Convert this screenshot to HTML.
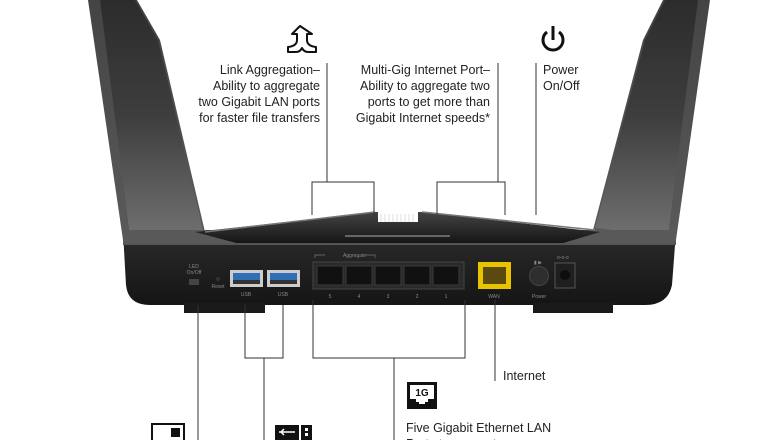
<!DOCTYPE html>
<html><head><meta charset="utf-8"><style>
html,body{margin:0;padding:0;background:#fff;width:780px;height:440px;overflow:hidden}
svg{display:block}
.t{font-family:"Liberation Sans",sans-serif;font-size:12.5px;fill:#222}
.s{font-family:"Liberation Sans",sans-serif;font-size:5px;fill:#888}
</style></head><body>
<svg width="780" height="440" viewBox="0 0 780 440" xmlns="http://www.w3.org/2000/svg">
<defs>
<linearGradient id="antV" x1="0" y1="0" x2="0" y2="1">
<stop offset="0" stop-color="#2c2c2c"/><stop offset="0.5" stop-color="#3e3e3e"/><stop offset="1" stop-color="#707070"/></linearGradient>
<linearGradient id="rim" x1="0" y1="0" x2="0" y2="1">
<stop offset="0" stop-color="#444"/><stop offset="1" stop-color="#5a5a5a"/></linearGradient>
<linearGradient id="body" x1="0" y1="0" x2="0" y2="1">
<stop offset="0" stop-color="#2b2b2b"/><stop offset="1" stop-color="#151515"/></linearGradient>
<linearGradient id="wing" x1="0" y1="0" x2="0" y2="1">
<stop offset="0" stop-color="#444"/><stop offset="1" stop-color="#141414"/></linearGradient>
</defs>
<!-- antennas -->
<path d="M88,0 L137,0 L160,40 L205,232 L123,240 Z" fill="url(#rim)"/>
<path d="M100,0 L135,0 L158,40 L203,230 L130,236 Z" fill="url(#antV)"/>
<path d="M710,0 L663,0 L643,40 L593,230 L676,240 Z" fill="url(#rim)"/>
<path d="M698,0 L665,0 L645,40 L595,228 L668,236 Z" fill="url(#antV)"/>
<!-- body -->
<path d="M123,232 L676,232 L672,285 Q668,305 645,305 L150,305 Q128,305 126,285 Z" fill="url(#body)"/>
<path d="M123,230 L676,230 L676,244 L123,244 Z" fill="#595959"/>
<!-- wings -->
<path d="M195,232 L375,212 L378,212 L378,222 L418,222 L418,212 L422,212 L600,232 L560,244 L240,244 Z" fill="url(#wing)"/>
<path d="M205,232 L375,212" stroke="#777" stroke-width="1.5"/>
<path d="M422,212 L595,230" stroke="#777" stroke-width="1.5"/>
<g stroke="#ddd" stroke-width="1">
<line x1="381" y1="214" x2="381" y2="222"/><line x1="385" y1="214" x2="385" y2="222"/><line x1="389" y1="214" x2="389" y2="222"/><line x1="393" y1="214" x2="393" y2="222"/><line x1="397" y1="214" x2="397" y2="222"/><line x1="401" y1="214" x2="401" y2="222"/><line x1="405" y1="214" x2="405" y2="222"/><line x1="409" y1="214" x2="409" y2="222"/><line x1="413" y1="214" x2="413" y2="222"/></g>
<rect x="345" y="235" width="105" height="2" fill="#666"/>
<rect x="123" y="243" width="553" height="2" fill="#555"/>
<!-- feet -->
<rect x="184" y="303" width="81" height="10" fill="#1a1a1a"/>
<rect x="533" y="303" width="80" height="10" fill="#1a1a1a"/>
<!-- ports -->
<text class="s" x="194" y="268" text-anchor="middle">LED</text>
<text class="s" x="194" y="274" text-anchor="middle">On/Off</text>
<rect x="189" y="279" width="10" height="6" fill="#444"/>
<circle cx="218" cy="279" r="2" fill="#333"/>
<text class="s" x="218" y="288" text-anchor="middle">Reset</text>
<rect x="230" y="270" width="33" height="17" fill="#ccc"/><rect x="233" y="273" width="27" height="7" fill="#2f6fb5"/><rect x="233" y="280" width="27" height="4" fill="#333"/>
<rect x="267" y="270" width="33" height="17" fill="#ccc"/><rect x="270" y="273" width="27" height="7" fill="#2f6fb5"/><rect x="270" y="280" width="27" height="4" fill="#333"/>
<text class="s" x="246" y="296" text-anchor="middle">USB</text>
<text class="s" x="283" y="296" text-anchor="middle">USB</text>
<text class="s" x="343" y="257">Aggregate</text>
<path d="M315,258 v-3 h10 M365,255 h10 v3" stroke="#777" fill="none" stroke-width="0.7"/>
<rect x="313" y="262" width="151" height="27" fill="#2a2a2a" stroke="#444"/>
<g fill="#111" stroke="#3a3a3a">
<rect x="317" y="266" width="26" height="19"/><rect x="346" y="266" width="26" height="19"/><rect x="375" y="266" width="26" height="19"/><rect x="404" y="266" width="26" height="19"/><rect x="433" y="266" width="26" height="19"/></g>
<g class="s" text-anchor="middle"><text x="330" y="298">5</text><text x="359" y="298">4</text><text x="388" y="298">3</text><text x="417" y="298">2</text><text x="446" y="298">1</text><text x="494" y="298">WAN</text><text x="539" y="298">Power</text></g>
<rect x="478" y="262" width="33" height="27" fill="#e8c400"/><rect x="483" y="267" width="23" height="17" fill="#5a4a10"/>
<circle cx="539" cy="276" r="9.5" fill="#2e2e2e" stroke="#444"/>
<text class="s" x="534" y="264">▮ ▶</text>
<rect x="555" y="263" width="20" height="25" fill="#1f1f1f" stroke="#555"/><circle cx="565" cy="275" r="5" fill="#0d0d0d"/>
<text class="s" x="557" y="259">o-o-o</text>
<!-- top icons -->
<path d="M302,26 L294,34 L299,34 L299,40 Q299,46 290,47 L290,52 L298,52 Q302,52 304,48 Q306,52 310,52 L318,52 L318,47 Q309,46 309,40 L309,34 L314,34 Z" fill="none" stroke="#111" stroke-width="2" stroke-linejoin="round" transform="translate(-2,0)"/>
<path d="M547,32 A10,10 0 1 0 559,32" fill="none" stroke="#111" stroke-width="3"/>
<line x1="553" y1="26" x2="553" y2="40" stroke="#111" stroke-width="3"/>
<!-- top text -->
<g class="t" text-anchor="end">
<text x="320" y="74">Link Aggregation–</text>
<text x="320" y="90">Ability to aggregate</text>
<text x="320" y="106">two Gigabit LAN ports</text>
<text x="320" y="122">for faster file transfers</text>
<text x="490" y="74">Multi-Gig Internet Port–</text>
<text x="490" y="90">Ability to aggregate two</text>
<text x="490" y="106">ports to get more than</text>
<text x="490" y="122">Gigabit Internet speeds*</text>
</g>
<text class="t" x="543" y="74">Power</text>
<text class="t" x="543" y="90">On/Off</text>
<!-- leader lines -->
<g stroke="#333" stroke-width="1" fill="none">
<path d="M327,63 V182 M312,215 V182 H374 V215"/>
<path d="M498,63 V182 M437,215 V182 H505 V215"/>
<path d="M536,63 V215"/>
<path d="M198,305 V440"/>
<path d="M245,305 V358 H283 V305 M264,358 V440"/>
<path d="M313,300 V358 H465 V300 M394,358 V440"/>
<path d="M495,300 V381"/>
</g>
<text class="t" x="503" y="380">Internet</text>
<!-- 1G icon -->
<rect x="407" y="382" width="30" height="27" fill="#111"/>
<rect x="410" y="385" width="24" height="14" fill="#fff"/>
<path d="M416,399 h12 v3 h-3 v2 h-6 v-2 h-3 z" fill="#fff"/>
<text x="422" y="396" text-anchor="middle" font-family="Liberation Sans,sans-serif" font-size="10" font-weight="bold" fill="#111">1G</text>
<text class="t" x="406" y="432">Five Gigabit Ethernet LAN</text>
<text class="t" x="406" y="448">Ports to connect more</text>
<!-- bottom icons -->
<rect x="152" y="424" width="32" height="20" fill="none" stroke="#111" stroke-width="2"/>
<rect x="171" y="428" width="9" height="9" fill="#111"/>
<rect x="275" y="425" width="24" height="16" fill="#111"/>
<rect x="301" y="425" width="11" height="16" fill="#111"/>
<path d="M279,432 h16 M284,429 l-3,3 3,3" stroke="#fff" stroke-width="1.5" fill="none"/>
<rect x="305" y="428" width="3" height="3" fill="#fff"/><rect x="305" y="433" width="3" height="3" fill="#fff"/>
</svg>
</body></html>
